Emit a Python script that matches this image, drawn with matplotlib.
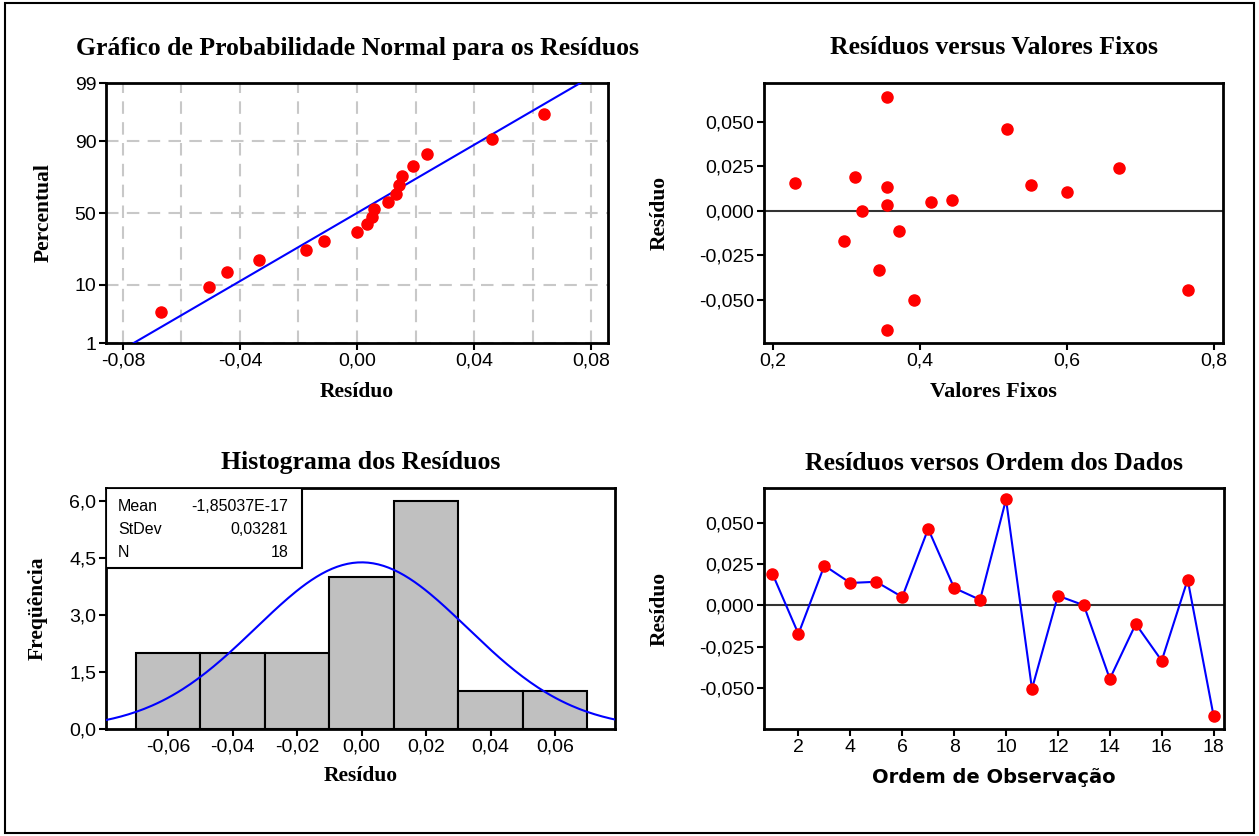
import numpy as np
import matplotlib.pyplot as plt
from matplotlib.patches import Rectangle
from matplotlib.ticker import FuncFormatter
from statistics import NormalDist

# residuos na ordem de observacao
residuo = [0.0190, -0.0173, 0.0240, 0.0135, 0.0142, 0.0050, 0.0462, 0.0105,
           0.0033, 0.0640, -0.0505, 0.0058, 0.0000, -0.0445, -0.0113, -0.0335,
           0.0155, -0.0670]
# valores ajustados de cada observacao
valores_fixos = [0.312, 0.297, 0.671, 0.356, 0.551, 0.415, 0.518, 0.600,
                 0.356, 0.356, 0.392, 0.444, 0.321, 0.765, 0.371, 0.344,
                 0.2295, 0.356]
ordem = list(range(1, 19))

# caixa de estatisticas do histograma
stat_nomes = ['Mean', 'StDev', 'N']
stat_textos = ['-1,85037E-17', '0,03281', '18']
media = 0.0
desvio = 0.03281

# escala de probabilidade
pct_ticks = [1, 10, 50, 90, 99]

serif = ['Liberation Serif', 'DejaVu Serif']
sans = ['Liberation Sans', 'DejaVu Sans']
plt.rcParams['font.family'] = sans

W, H = 1259, 836
fig = plt.figure(figsize=(W / 100, H / 100), dpi=100)


# posicao do eixo em pixels (esq, topo, dir, base)
def px_axes(x0, y0, x1, y1):
    return fig.add_axes([x0 / W, 1 - y1 / H, (x1 - x0) / W, (y1 - y0) / H])


def virgula(dec):
    def f(v, pos):
        v = round(v, dec) + 0.0
        return f"{v:.{dec}f}".replace('.', ',')
    return FuncFormatter(f)


def estilo(ax):
    for s in ax.spines.values():
        s.set_linewidth(2)
        s.set_color('black')
    ax.tick_params(direction='out', length=5, width=1.5, labelsize=14,
                   pad=2)


def titulo(ax, txt, y):
    b = ax.get_position()
    fig.text((b.x0 + b.x1) / 2, 1 - y / H, txt, ha='center', va='center',
             fontsize=18.5, fontweight='bold', family=serif)


def rotulos(ax, xl, yl, xpos, ypos, xfam=serif, xsize=15.5):
    ax.set_xlabel(xl, fontsize=xsize, fontweight='bold', family=xfam)
    ax.set_ylabel(yl, fontsize=15.5, fontweight='bold', family=serif)
    ax.xaxis.set_label_coords(0.5, xpos)
    ax.yaxis.set_label_coords(ypos, 0.5)


res = np.array(residuo)
n = len(res)
nd = NormalDist()

# ---- grafico de probabilidade normal ----
ax1 = px_axes(106, 83, 608, 343)
res_ord = np.sort(res)
p = (np.arange(1, n + 1) - 0.3) / (n + 0.4)
z = np.array([nd.inv_cdf(v) for v in p])
z_lim = [nd.inv_cdf(0.01), nd.inv_cdf(0.99)]
z_lin = np.linspace(z_lim[0], z_lim[1], 50)
ax1.plot(media + desvio * z_lin, z_lin, color='#0000ff', lw=1.5, zorder=3)
ax1.plot(res_ord, z, 'o', color='#ff0000', ms=8, zorder=4)
ax1.set_xlim(-0.0858, 0.0858)
ax1.set_ylim(z_lim)
ax1.set_xticks([-0.08, -0.04, 0.0, 0.04, 0.08])
ax1.set_xticks(np.arange(-0.08, 0.081, 0.02), minor=True)
ax1.set_yticks([nd.inv_cdf(v / 100) for v in pct_ticks])
ax1.set_yticklabels([str(v) for v in pct_ticks])
ax1.xaxis.set_major_formatter(virgula(2))
ax1.tick_params(axis='x', which='minor', length=0)
ax1.grid(True, which='both', axis='x', color='#c8c8c8', lw=1.5,
         ls=(0, (6, 4)))
ax1.grid(True, which='major', axis='y', color='#c8c8c8', lw=1.5,
         ls=(0, (6, 4)))
ax1.set_axisbelow(True)
estilo(ax1)
rotulos(ax1, 'Resíduo', 'Percentual', -0.15, -0.105)
titulo(ax1, 'Gráfico de Probabilidade Normal para os Resíduos', 48)

# ---- residuos versus valores ajustados ----
ax2 = px_axes(764, 83, 1223, 343)
ax2.axhline(0, color='#333333', lw=1.5, zorder=2)
ax2.plot(valores_fixos, res, 'o', color='#ff0000', ms=8, zorder=3)
ax2.set_xlim(0.188, 0.8124)
ax2.set_ylim(-0.0744, 0.0718)
ax2.set_xticks([0.2, 0.4, 0.6, 0.8])
ax2.set_yticks([-0.05, -0.025, 0.0, 0.025, 0.05])
ax2.xaxis.set_major_formatter(virgula(1))
ax2.yaxis.set_major_formatter(virgula(3))
estilo(ax2)
rotulos(ax2, 'Valores Fixos', 'Resíduo', -0.15, -0.205, xsize=16)
titulo(ax2, 'Resíduos versus Valores Fixos', 48)

# ---- histograma ----
ax3 = px_axes(106, 488, 615, 729)
bordas = np.linspace(-0.07, 0.07, 8)
ax3.hist(res, bins=bordas, color='#c0c0c0', edgecolor='black', lw=1.5,
         zorder=2)
xc = np.linspace(-0.0795, 0.0795, 200)
larg = bordas[1] - bordas[0]
yc = np.array([n * larg * NormalDist(media, desvio).pdf(v) for v in xc])
ax3.plot(xc, yc, color='#0000ff', lw=1.5, zorder=3)
ax3.set_xlim(-0.0793, 0.0786)
ax3.set_ylim(0, 6.33)
ax3.set_xticks([-0.06, -0.04, -0.02, 0.0, 0.02, 0.04, 0.06])
ax3.set_yticks([0, 1.5, 3.0, 4.5, 6.0])
ax3.xaxis.set_major_formatter(virgula(2))
ax3.yaxis.set_major_formatter(virgula(1))
estilo(ax3)
ax3.add_patch(Rectangle((0, 0.667), 0.386, 0.333, transform=ax3.transAxes,
                        facecolor='white', edgecolor='black', lw=1.5,
                        zorder=5))
for i, (nome, txt) in enumerate(zip(stat_nomes, stat_textos)):
    yy = 0.925 - i * 0.097
    ax3.text(0.024, yy, nome, transform=ax3.transAxes, fontsize=11.5,
             va='center', ha='left', zorder=6)
    ax3.text(0.358, yy, txt, transform=ax3.transAxes, fontsize=11.5,
             va='center', ha='right', zorder=6)
rotulos(ax3, 'Resíduo', 'Freqüência', -0.155, -0.115)
titulo(ax3, 'Histograma dos Resíduos', 463)

# ---- residuos versus ordem ----
ax4 = px_axes(764, 488, 1224, 729)
ax4.axhline(0, color='#333333', lw=1.5, zorder=2)
ax4.plot(ordem, res, '-', color='#0000ff', lw=1.5, zorder=3)
ax4.plot(ordem, res, 'o', color='#ff0000', ms=8, zorder=4)
ax4.set_xlim(0.673, 18.4)
ax4.set_ylim(-0.0748, 0.0709)
ax4.set_xticks(range(2, 19, 2))
ax4.set_yticks([-0.05, -0.025, 0.0, 0.025, 0.05])
ax4.yaxis.set_major_formatter(virgula(3))
estilo(ax4)
rotulos(ax4, 'Ordem de Observação', 'Resíduo', -0.16, -0.205,
        xfam=['DejaVu Sans'], xsize=14)
titulo(ax4, 'Resíduos versos Ordem dos Dados', 463)

# moldura externa
fig.add_artist(Rectangle((0.004, 0.004), 0.992, 0.992, transform=fig.transFigure,
                         fill=False, edgecolor='black', lw=1.5))

fig.savefig('out.png', dpi=100)
